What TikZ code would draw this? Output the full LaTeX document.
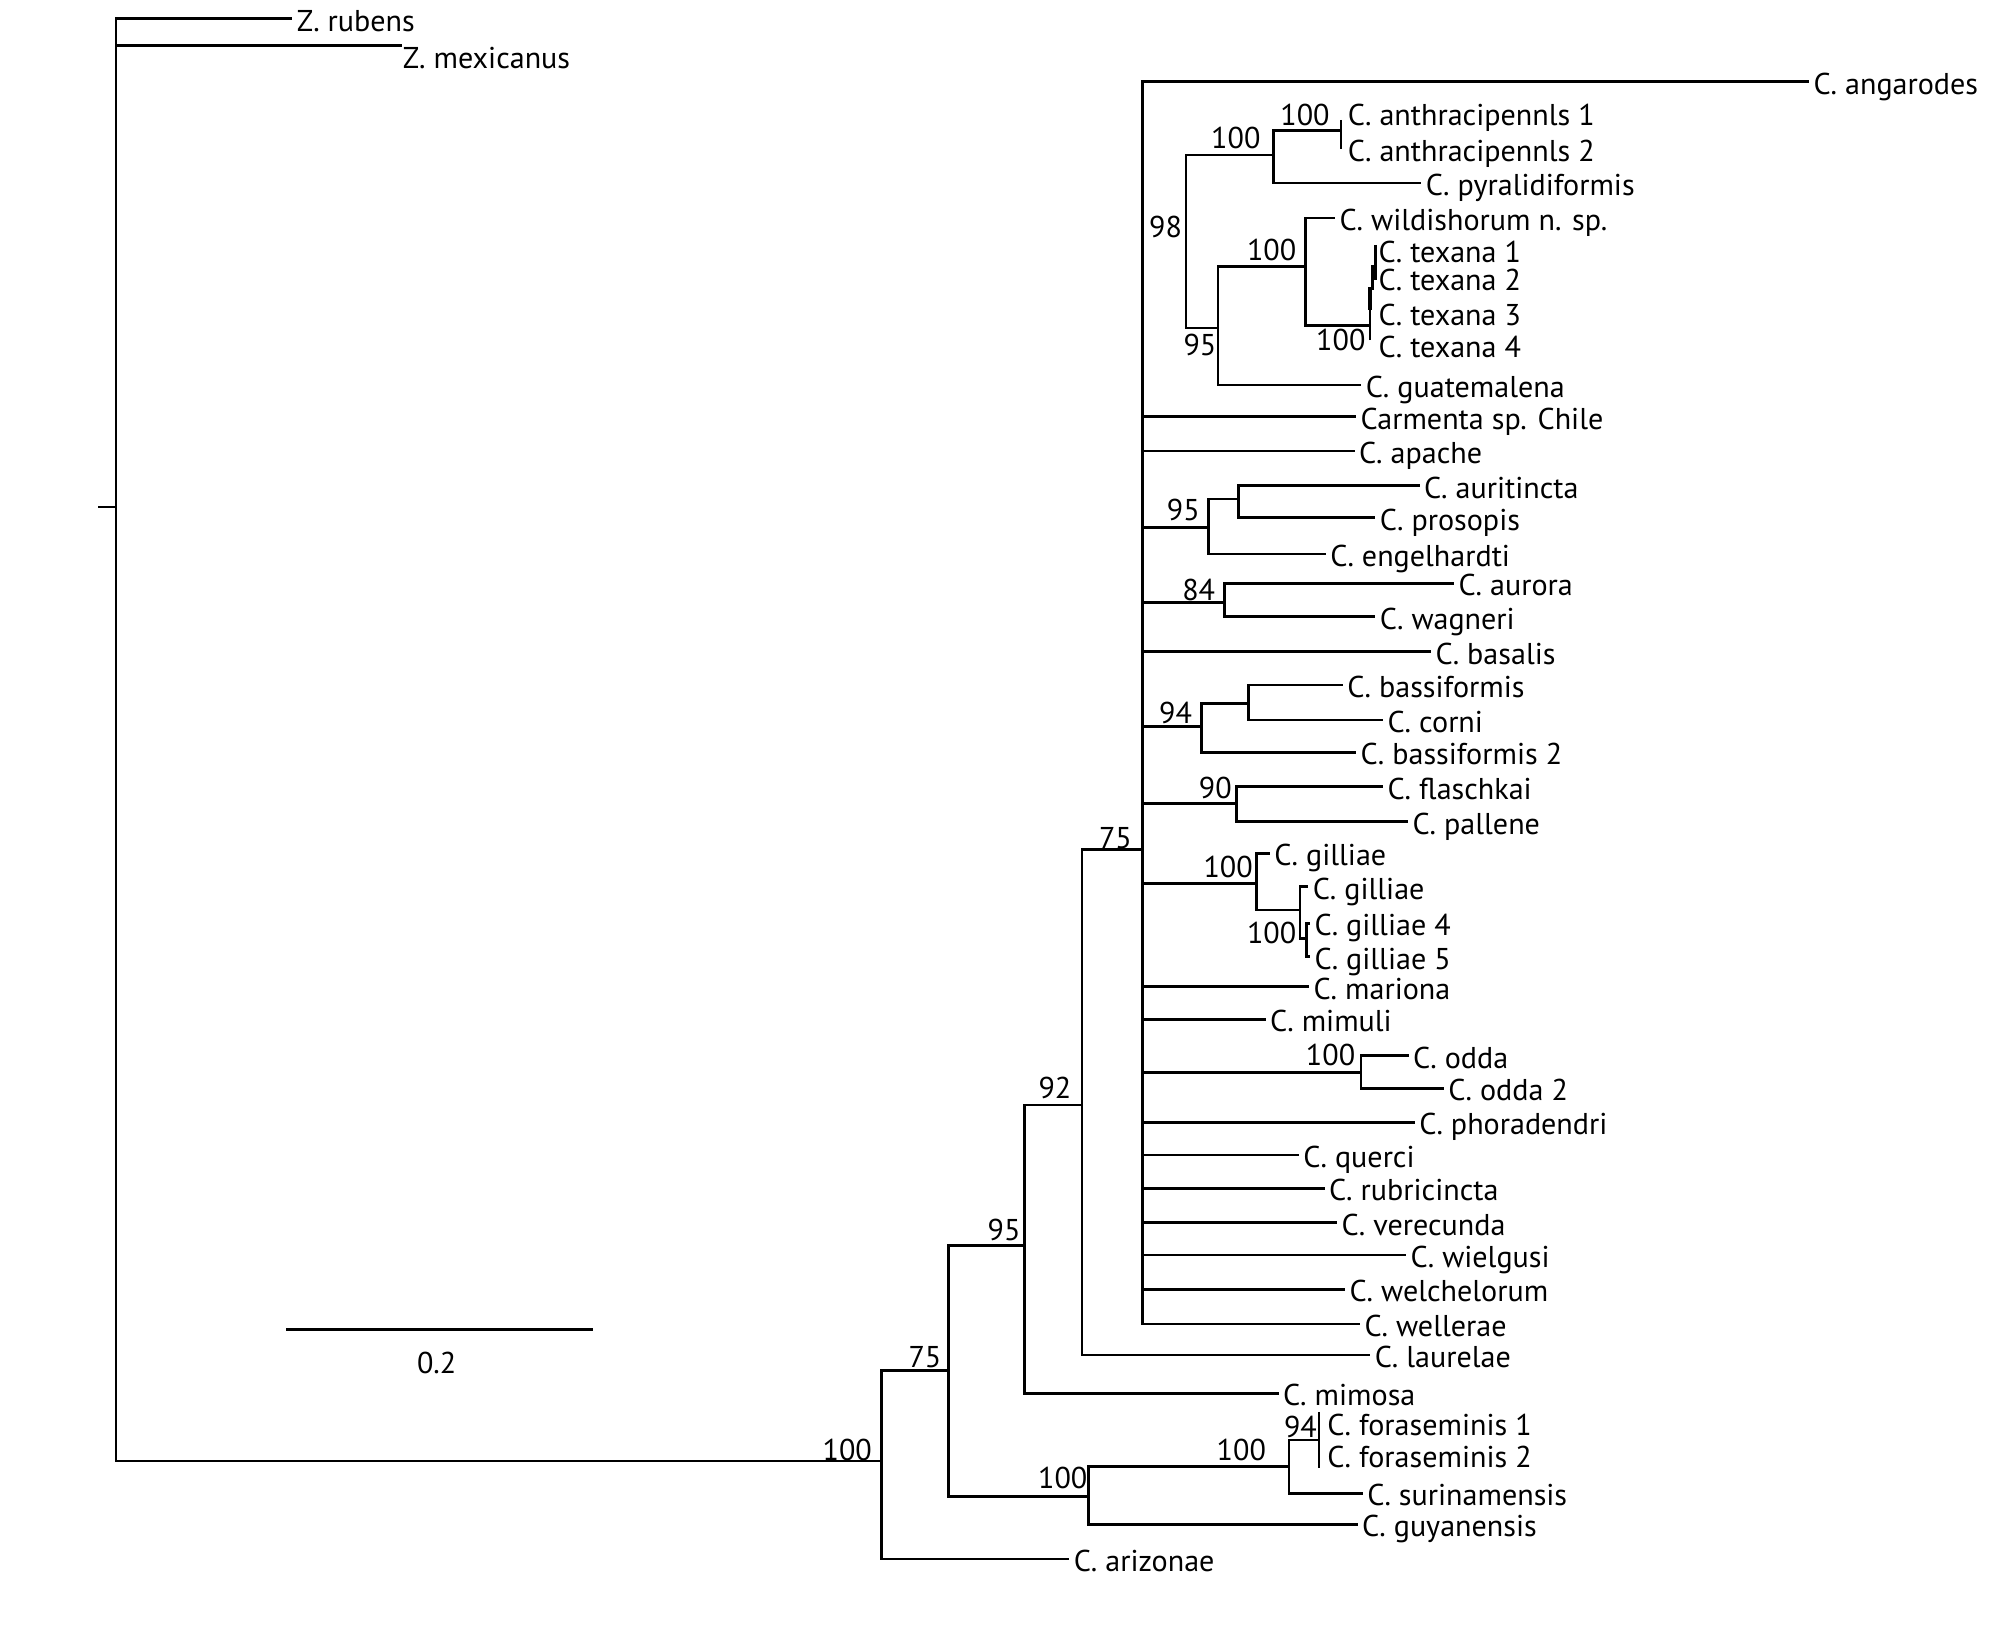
\documentclass[tikz,border=0pt]{standalone}
\usepackage{fontspec}
\setmainfont{PT Sans}
\begin{document}
\begin{tikzpicture}[x=1pt, y=-1pt, line width=2pt,
    font=\fontsize{23.5}{26}\selectfont,
    leaf/.style={anchor=west, inner xsep=2.5pt, inner ysep=0pt, text height=19.5pt, text depth=0pt},
    boot/.style={inner sep=0pt, text height=16.5pt, text depth=0pt}]

    % 0. Ramecek obrazku
    \useasboundingbox (0,0) rectangle (1568,1273);

    % 1. Koren a vnejsi skupina (Z.)
    \coordinate (rootstem) at (76.7,396);
    \coordinate (root) at (90.6,396);
    \coordinate (zmexend) at (313.8,35.4);
    \node[leaf] (zrub) at (228.3,14.5) {Z. rubens};
    \node[leaf] (zmex) at (311,43.5) {Z. mexicanus};
    \draw (rootstem) -- (root);
    \draw (root) |- (zrub);
    \draw (root) |- (zmexend);

    % 2. Paterni uzly
    \coordinate (N1) at (688.4,1141);
    \coordinate (N2) at (740.7,1070.3);
    \coordinate (N3) at (800,972.7);
    \coordinate (N4) at (845,862.9);
    \coordinate (P)  at (892,663.2);
    \coordinate (N5) at (849.8,1168.7);
    \coordinate (N6) at (1006.4,1145.3);
    \coordinate (N7) at (1030,1124.5);
    \coordinate (N7t) at (1030,1102.4);
    \coordinate (N7b) at (1030,1146.6);

    \node[leaf] (arizonae) at (835,1217.4) {C. arizonae};
    \node[leaf] (mimosa) at (998.4,1088) {C. mimosa};
    \node[leaf] (laurelae) at (1070,1058.1) {C. laurelae};
    \node[leaf] (guyanensis) at (1060.2,1190.3) {C. guyanensis};
    \node[leaf] (surinamensis) at (1064.2,1166.1) {C. surinamensis};
    \node[leaf] (fora1) at (1033,1111.3) {C. foraseminis 1};
    \node[leaf] (fora2) at (1033,1136) {C. foraseminis 2};

    \draw (root) |- (N1);
    \draw (N1) |- (N2);
    \draw (N1) |- (arizonae);
    \draw (N2) |- (N3);
    \draw (N2) |- (N5);
    \draw (N3) |- (N4);
    \draw (N3) |- (mimosa);
    \draw (N4) |- (P);
    \draw (N4) |- (laurelae);
    \draw (N5) |- (N6);
    \draw (N5) |- (guyanensis);
    \draw (N6) |- (N7);
    \draw (N6) |- (surinamensis);
    \draw (N7t) -- (N7b);

    % 3. Politomie - jednoduche vetve
    \foreach \xe/\y/\nm/\lab in {1412.6/63.8/angarodes/C. angarodes,
        1059/325.4/chile/Carmenta sp. Chile, 1057.7/352.2/apache/C. apache,
        1117.5/508.9/basalis/C. basalis, 1022.2/770.5/mariona/C. mariona,
        988.3/796/mimuli/C. mimuli, 1104.8/876.4/phoradendri/C. phoradendri,
        1014.3/902/querci/C. querci, 1034.3/927.9/rubricincta/C. rubricincta,
        1044.2/954.8/verecunda/C. verecunda, 1098/980/wielgusi/C. wielgusi,
        1050.3/1006.8/welchelorum/C. welchelorum, 1062/1033.9/wellerae/C. wellerae} {
        \node[leaf] (\nm) at (\xe,\y) {\lab};
        \draw (P) |- (\nm);
    }

    % 4. Politomie - podskupiny
    \coordinate (B95) at (943.5,412);
    \coordinate (B95i) at (967,389.7);
    \coordinate (B84) at (956,470.4);
    \coordinate (B94) at (938.2,567.5);
    \coordinate (B94i) at (975,549.2);
    \coordinate (B90) at (965.6,627.3);
    \coordinate (G1) at (981.3,689.8);
    \coordinate (G2) at (1015.2,710.6);
    \coordinate (G3) at (1020.4,732.7);
    \coordinate (B100o) at (1062.8,837.4);

    \node[leaf] (auritincta) at (1108.5,379.3) {C. auritincta};
    \node[leaf] (prosopis) at (1074,404.2) {C. prosopis};
    \node[leaf] (engelhardti) at (1035.3,432.6) {C. engelhardti};
    \node[leaf] (aurora) at (1135.4,455.5) {C. aurora};
    \node[leaf] (wagneri) at (1074,481.5) {C. wagneri};
    \node[leaf] (bassiformis) at (1048.7,535) {C. bassiformis};
    \node[leaf] (corni) at (1080,562.2) {C. corni};
    \node[leaf] (bassiformisb) at (1059,587.5) {C. bassiformis 2};
    \node[leaf] (flaschkai) at (1080,614.3) {C. flaschkai};
    \node[leaf] (pallene) at (1099.5,641.6) {C. pallene};
    \node[leaf] (gilliaea) at (991.7,666.3) {C. gilliae};
    \node[leaf] (gilliaeb) at (1021.6,692.4) {C. gilliae};
    \node[leaf] (gilliaed) at (1023,721) {C. gilliae 4};
    \node[leaf] (gilliaee) at (1023,747.1) {C. gilliae 5};
    \node[leaf] (odda) at (1100,824.4) {C. odda};
    \node[leaf] (oddab) at (1127.5,849.9) {C. odda 2};

    \draw (P) |- (B95);
    \draw (B95) |- (B95i);
    \draw (B95) |- (engelhardti);
    \draw (B95i) |- (auritincta);
    \draw (B95i) |- (prosopis);
    \draw (P) |- (B84);
    \draw (B84) |- (aurora);
    \draw (B84) |- (wagneri);
    \draw (P) |- (B94);
    \draw (B94) |- (B94i);
    \draw (B94) |- (bassiformisb);
    \draw (B94i) |- (bassiformis);
    \draw (B94i) |- (corni);
    \draw (P) |- (B90);
    \draw (B90) |- (flaschkai);
    \draw (B90) |- (pallene);
    \draw (P) |- (G1);
    \draw (G1) |- (gilliaea);
    \draw (G1) |- (G2);
    \draw (G2) |- (gilliaeb);
    \draw (G2) |- (G3);
    \draw (G3) |- (gilliaed);
    \draw (G3) |- (gilliaee);
    \draw (P) |- (B100o);
    \draw (B100o) |- (odda);
    \draw (B100o) |- (oddab);

    % 5. Skupina 98 (bez kmene)
    \coordinate (Q) at (926,188.5);
    \coordinate (A100b) at (994.4,121);
    \coordinate (A100a) at (1047,102);
    \coordinate (A100at) at (1047,93.7);
    \coordinate (A100ab) at (1047,116.6);
    \coordinate (T95) at (951,256);
    \coordinate (T100) at (1019.5,208);
    \coordinate (TX) at (1069.8,254.3);
    \coordinate (TXb) at (1069.8,265.5);
    \coordinate (TXt) at (1069.8,223.9);
    \coordinate (TXm) at (1069.8,242);
    \coordinate (TY) at (1071.9,206.9);
    \coordinate (TYb) at (1071.9,226.4);
    \coordinate (TZ) at (1074,191.3);
    \coordinate (TZb) at (1074,218.6);

    \node[leaf] (anthra1) at (1049,88.5) {C. anthracipennls 1};
    \node[leaf] (anthra2) at (1049,116.5) {C. anthracipennls 2};
    \node[leaf] (pyralidiformis) at (1110,143) {C. pyralidiformis};
    \node[leaf] (wildishorum) at (1042.5,170.4) {C. wildishorum n. sp.};
    \node[leaf] (texana1) at (1073,195) {C. texana 1};
    \node[leaf] (texana2) at (1073,217.1) {C. texana 2};
    \node[leaf] (texana3) at (1073,244.5) {C. texana 3};
    \node[leaf] (texana4) at (1073,269.2) {C. texana 4};
    \node[leaf] (guatemalena) at (1063,300.6) {C. guatemalena};

    \draw (Q) |- (A100b);
    \draw (Q) |- (T95);
    \draw (A100b) |- (A100a);
    \draw (A100b) |- (pyralidiformis);
    \draw (A100at) -- (A100ab);
    \draw (T95) |- (T100);
    \draw (T95) |- (guatemalena);
    \draw (T100) |- (wildishorum);
    \draw (T100) |- (TX);
    \draw (TXb) -- (TXt);
    \draw[line width=3.2pt] (TXm) -- (TXt);
    \draw (TY) -- (TYb);
    \draw (TZ) -- (TZb);

    % 6. Bootstrap hodnoty
    \foreach \x/\y/\v [count=\i] in {661.6/1132.3/100, 722.3/1059.4/75, 784/960.5/95,
        823.8/849.9/92, 871/654.6/75, 829.9/1154.4/100, 969.3/1132.3/100,
        1015.5/1114.5/94, 910.2/177/98, 937/269.4/95, 965/108/100, 1019/89.8/100,
        993/195/100, 1047/265.5/100, 924/398/95, 936/460.7/84, 918/556.8/94,
        949/615.5/90, 959/676.8/100, 993/728.8/100, 1039/823.8/100} {
        \node[boot] (bs\i) at (\x,\y) {\v};
    }

    % 7. Meritko
    \coordinate (sbl) at (223.5,1038);
    \coordinate (sbr) at (463,1038);
    \draw (sbl) -- (sbr);
    \node[boot] (sblab) at (341,1064.6) {0.2};

\end{tikzpicture}
\end{document}
